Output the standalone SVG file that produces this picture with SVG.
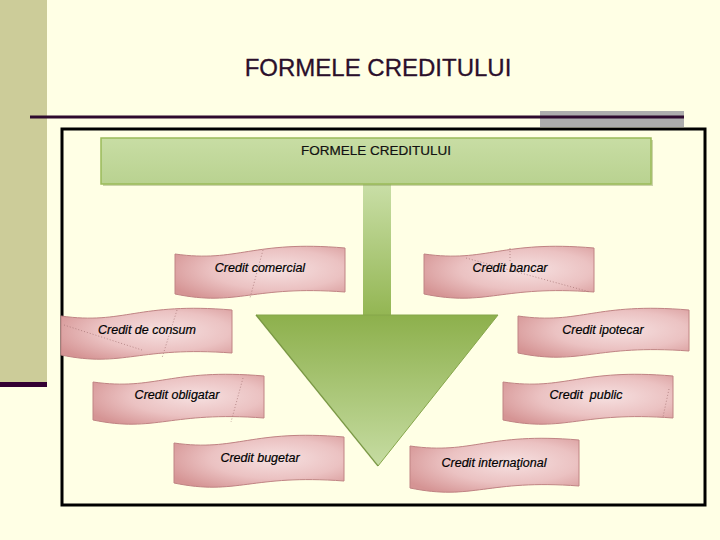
<svg xmlns="http://www.w3.org/2000/svg" width="720" height="540" viewBox="0 0 720 540">
<style>
.ban{fill:url(#pink);stroke:#C08484;stroke-width:1}
.bt{font-family:"Liberation Sans",Arial,sans-serif;font-size:12.5px;font-style:italic;fill:#000;text-anchor:middle;white-space:pre;stroke:#000;stroke-width:0.2}
.dot{fill:none;stroke:#A07070;stroke-width:0.7;stroke-dasharray:1 2}
</style>
<defs>
<radialGradient id="pink" cx="0.6" cy="0.45" r="0.7">
<stop offset="0" stop-color="#F6E0E0"/>
<stop offset="0.55" stop-color="#EBC2C2"/>
<stop offset="1" stop-color="#D59494"/>
</radialGradient>
<linearGradient id="hdr" x1="0" y1="0" x2="0" y2="1">
<stop offset="0" stop-color="#C8DDA4"/>
<stop offset="1" stop-color="#B9D290"/>
</linearGradient>
<linearGradient id="stem" x1="0" y1="0" x2="0" y2="1">
<stop offset="0" stop-color="#CADFA8"/>
<stop offset="1" stop-color="#92B551"/>
</linearGradient>
<linearGradient id="tri" x1="0" y1="0" x2="0" y2="1">
<stop offset="0" stop-color="#8DB04C"/>
<stop offset="1" stop-color="#C6DCA2"/>
</linearGradient>
</defs>
<rect width="720" height="540" fill="#FFFFE5"/>
<rect x="0" y="0" width="47" height="382" fill="#CCCC99"/>
<rect x="0" y="382" width="47" height="5" fill="#330033"/>
<rect x="540" y="111" width="144" height="16" fill="#ADADAD"/>
<rect x="30" y="115.5" width="654" height="3" fill="#2E0A2E"/>
<text x="378" y="76" font-family="'Liberation Sans',Arial,sans-serif" font-size="24" fill="#2B0F2B" stroke="#2B0F2B" stroke-width="0.3" text-anchor="middle">FORMELE CREDITULUI</text>
<rect x="62" y="129" width="643" height="376" fill="none" stroke="#000" stroke-width="3"/>

<g id="arrow">
<rect x="363" y="182" width="28" height="136" fill="url(#stem)"/>
<path d="M256,315 L498,315 L378,466 Z" fill="url(#tri)" stroke="#86A64A" stroke-width="1"/>
<path d="M256,315 L378,466" fill="none" stroke="#6E8C3A" stroke-width="1.5" opacity="0.6"/>
</g>

<g id="header">
<rect x="103" y="140" width="550" height="46" fill="#8FA060" opacity="0.45"/>
<rect x="101" y="138" width="550" height="46" fill="url(#hdr)" stroke="#9BBB59" stroke-width="1.5"/>
<text x="376" y="155" font-family="'Liberation Sans',Arial,sans-serif" font-size="13.5" fill="#111" stroke="#111" stroke-width="0.2" text-anchor="middle">FORMELE CREDITULUI</text>
</g>

<g id="comercial">
<path class="ban" d="M175,254 C238,263 252,240 345,248 L345,292 C252,285 238,307 175,294 Z"/>
<path class="dot" d="M263,250 L250,298"/>
<text class="bt" x="260" y="272">Credit comercial</text>
</g>
<g id="bancar">
<path class="ban" d="M424,254 C487,263 501,240 594,248 L594,292 C501,285 487,307 424,294 Z"/>
<path class="dot" d="M466,258 L590,292 M510,248 L510,262"/>
<text class="bt" x="510" y="272">Credit bancar</text>
</g>
<g id="consum">
<path class="ban" d="M61,316 C124,325 138,302 232,310 L232,353 C138,346 124,368 61,355 Z"/>
<path class="dot" d="M64,325 L142,350 M177,310 L162,358"/>
<text class="bt" x="147" y="334">Credit de consum</text>
</g>
<g id="ipotecar">
<path class="ban" d="M518,316 C581,325 595,302 689,310 L689,351 C595,344 581,366 518,353 Z"/>
<text class="bt" x="603" y="334">Credit ipotecar</text>
</g>
<g id="obligatar">
<path class="ban" d="M93,382 C156,391 170,368 264,376 L264,418 C170,411 156,433 93,420 Z"/>
<path class="dot" d="M243,378 L231,422"/>
<text class="bt" x="177" y="399">Credit obligatar</text>
</g>
<g id="public">
<path class="ban" d="M503,382 C566,391 580,368 673,376 L673,418 C580,411 566,433 503,420 Z"/>
<path class="dot" d="M669,389 L663,417"/>
<text class="bt" x="586" y="399">Credit  public</text>
</g>
<g id="bugetar">
<path class="ban" d="M174,443 C237,452 251,429 344,437 L344,481 C251,474 237,496 174,483 Z"/>
<text class="bt" x="260" y="462">Credit bugetar</text>
</g>
<g id="international">
<path class="ban" d="M410,446 C473,455 487,432 579,440 L579,486 C487,479 473,501 410,488 Z"/>
<text class="bt" x="494" y="467">Credit internaţional</text>
</g>
</svg>
